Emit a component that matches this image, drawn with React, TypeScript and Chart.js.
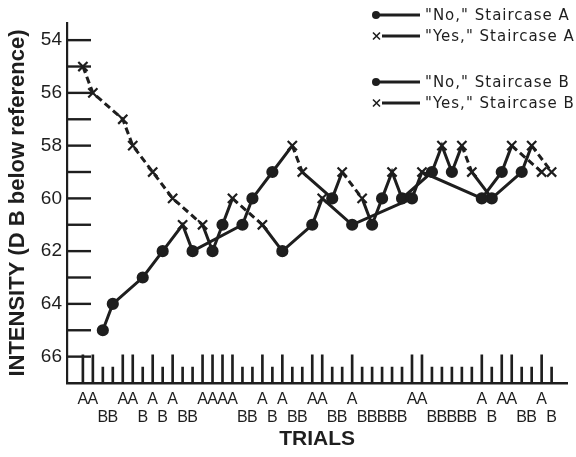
import React, { useEffect, useRef } from 'react';
import { Chart, registerables } from 'chart.js';

Chart.register(...registerables);

// ---- data ----
const trials = [
  1, 2, 3, 4, 5, 6, 7, 8, 9, 10, 11, 12, 13, 14, 15, 16, 17, 18, 19, 20, 21, 22, 23, 24,
  25, 26, 27, 28, 29, 30, 31, 32, 33, 34, 35, 36, 37, 38, 39, 40, 41, 42, 43, 44, 45, 46, 47, 48,
];
const staircase = [
  'A', 'A', 'B', 'B', 'A', 'A', 'B', 'A', 'B', 'A', 'B', 'B', 'A', 'A', 'A', 'A', 'B', 'B', 'A', 'B', 'A', 'B', 'B', 'A',
  'A', 'B', 'B', 'A', 'B', 'B', 'B', 'B', 'B', 'A', 'A', 'B', 'B', 'B', 'B', 'B', 'A', 'B', 'A', 'A', 'B', 'B', 'A', 'B',
];
const intensity = [
  55, 56, 65, 64, 57, 58, 63, 59, 62, 60, 61, 62, 61, 62, 61, 60, 61, 60, 61, 59, 62, 58, 59, 61,
  60, 60, 59, 61, 60, 61, 60, 59, 60, 60, 59, 59, 58, 59, 58, 59, 60, 60, 59, 58, 59, 58, 59, 59,
];
const response = [
  'Yes', 'Yes', 'No', 'No', 'Yes', 'Yes', 'No', 'Yes', 'No', 'Yes', 'Yes', 'No', 'Yes', 'No', 'No', 'Yes', 'No', 'No', 'Yes', 'No', 'No', 'Yes', 'Yes', 'No',
  'Yes', 'No', 'Yes', 'No', 'Yes', 'No', 'No', 'Yes', 'No', 'No', 'Yes', 'No', 'Yes', 'No', 'Yes', 'Yes', 'No', 'No', 'No', 'Yes', 'No', 'Yes', 'Yes', 'Yes',
];
const yTickLabels = [54, 56, 58, 60, 62, 64, 66];
const yTickMarks = [54, 55, 56, 57, 58, 59, 60, 61, 62, 63, 64, 65, 66];
const legendLabels = ['"No," Staircase A', '"Yes," Staircase A', '"No," Staircase B', '"Yes," Staircase B'];
const legendResponses = ['No', 'Yes', 'No', 'Yes'];

// ---- style constants ----
const INK = '#1e1e1e';
const Y_MIN = 53.35;
const Y_MAX = 67;
const A_TICK_TOP = 65.93;
const B_TICK_TOP = 66.4;
const LEGEND_Y = [15, 36, 82, 103];

type Pt = { x: number; y: number; r: string };

function staircaseData(s: string): Pt[] {
  const out: Pt[] = [];
  trials.forEach((t, i) => {
    if (staircase[i] === s) out.push({ x: t, y: intensity[i], r: response[i] });
  });
  return out;
}

function lineDataset(s: string) {
  const data = staircaseData(s);
  return {
    type: 'line' as const,
    label: 'Staircase ' + s,
    data,
    borderColor: INK,
    borderWidth: 3,
    pointStyle: (c: any) => (data[c.dataIndex] && data[c.dataIndex].r === 'Yes' ? 'crossRot' : 'circle'),
    pointRadius: (c: any) => (data[c.dataIndex] && data[c.dataIndex].r === 'Yes' ? 6.5 : 5),
    pointBorderWidth: 2.2,
    pointBackgroundColor: INK,
    pointBorderColor: INK,
    tension: 0,
    order: 1,
    segment: {
      borderDash: (c: any) =>
        data[c.p0DataIndex].r === 'Yes' && data[c.p1DataIndex].r === 'Yes' ? [7, 4] : undefined,
    },
  };
}

const innerTicksPlugin = {
  id: 'innerTicks',
  afterDatasetsDraw(chart: any) {
    const { ctx, chartArea, scales } = chart;
    ctx.save();
    ctx.strokeStyle = INK;
    ctx.lineWidth = 2.4;
    yTickMarks.forEach((v) => {
      const y = scales.y.getPixelForValue(v);
      ctx.beginPath();
      ctx.moveTo(chartArea.left, y);
      ctx.lineTo(chartArea.left + 24, y);
      ctx.stroke();
    });
    ctx.restore();
  },
};

const customLegendPlugin = {
  id: 'customLegend',
  afterDraw(chart: any) {
    const { ctx } = chart;
    ctx.save();
    legendLabels.forEach((label, i) => {
      const y = LEGEND_Y[i];
      ctx.strokeStyle = INK;
      ctx.fillStyle = INK;
      ctx.lineWidth = 2.8;
      ctx.setLineDash([]);
      if (legendResponses[i] === 'No') {
        ctx.beginPath();
        ctx.moveTo(375, y);
        ctx.lineTo(420, y);
        ctx.stroke();
        ctx.beginPath();
        ctx.arc(376, y, 4, 0, Math.PI * 2);
        ctx.fill();
      } else {
        ctx.beginPath();
        ctx.moveTo(382, y);
        ctx.lineTo(420, y);
        ctx.stroke();
        ctx.lineWidth = 1.6;
        ctx.beginPath();
        ctx.moveTo(373, y - 3.5);
        ctx.lineTo(380, y + 3.5);
        ctx.moveTo(373, y + 3.5);
        ctx.lineTo(380, y - 3.5);
        ctx.stroke();
      }
      ctx.font = '15px "DejaVu Sans"';
      try {
        (ctx as any).letterSpacing = '1px';
      } catch (e) {}
      ctx.textAlign = 'left';
      ctx.textBaseline = 'middle';
      ctx.fillText(label, 425, y + 1);
      try {
        (ctx as any).letterSpacing = '0px';
      } catch (e) {}
    });
    ctx.restore();
  },
};

export default function App() {
  const ref = useRef<HTMLCanvasElement | null>(null);

  useEffect(() => {
    if (!ref.current) return;
    const tickData = trials.map((t, i) => ({
      x: t,
      y: [staircase[i] === 'A' ? A_TICK_TOP : B_TICK_TOP, Y_MAX],
    }));

    const chart = new Chart(ref.current, {
      type: 'line',
      data: {
        datasets: [
          {
            type: 'bar',
            label: 'trial marks',
            data: tickData as any,
            backgroundColor: INK,
            barThickness: 2,
            order: 2,
          } as any,
          lineDataset('A') as any,
          lineDataset('B') as any,
        ],
      },
      options: {
        responsive: false,
        animation: false,
        devicePixelRatio: 1,
        layout: { padding: { top: 23, right: 3, left: 0, bottom: 0 } },
        plugins: {
          legend: { display: false },
          tooltip: { enabled: false },
        },
        scales: {
          x: {
            type: 'linear',
            min: -0.07,
            max: 49.05,
            grid: { display: false, drawTicks: false },
            border: { display: true, color: INK, width: 2.6 },
            afterBuildTicks: (s: any) => {
              s.ticks = trials.map((v) => ({ value: v }));
            },
            afterFit: (s: any) => {
              s.height = 74;
            },
            ticks: {
              autoSkip: false,
              maxRotation: 0,
              minRotation: 0,
              padding: 8,
              color: INK,
              font: { family: '"Liberation Sans"', size: 16, lineHeight: 1.12 },
              callback: (value: any) => {
                const i = trials.indexOf(Number(value));
                if (i < 0) return '';
                return staircase[i] === 'A' ? ['A', ''] : ['', 'B'];
              },
            },
            title: {
              display: true,
              text: 'TRIALS',
              color: INK,
              font: { family: '"Liberation Sans"', size: 21, weight: 'bold' },
              padding: { top: 0, bottom: 5 },
            },
          },
          y: {
            type: 'linear',
            reverse: true,
            min: Y_MIN,
            max: Y_MAX,
            grid: { display: false, drawTicks: false },
            border: { display: true, color: INK, width: 2.2 },
            afterBuildTicks: (s: any) => {
              s.ticks = yTickLabels.map((v) => ({ value: v }));
            },
            afterFit: (s: any) => {
              s.width = 67;
            },
            ticks: {
              padding: 5,
              color: INK,
              font: { family: '"Liberation Sans"', size: 19 },
              callback: (v: any) => String(v),
            },
            title: {
              display: true,
              text: 'INTENSITY (D B below reference)',
              color: INK,
              font: { family: '"Liberation Sans"', size: 22, weight: 'bold' },
              padding: { top: 5, bottom: 0 },
            },
          },
        },
      },
      plugins: [innerTicksPlugin, customLegendPlugin],
    });
    return () => chart.destroy();
  }, []);

  return (
    <div style={{ position: 'absolute', left: 0, top: 0, width: 576, height: 457, background: '#fff' }}>
      <canvas ref={ref} width={576} height={457} />
    </div>
  );
}
